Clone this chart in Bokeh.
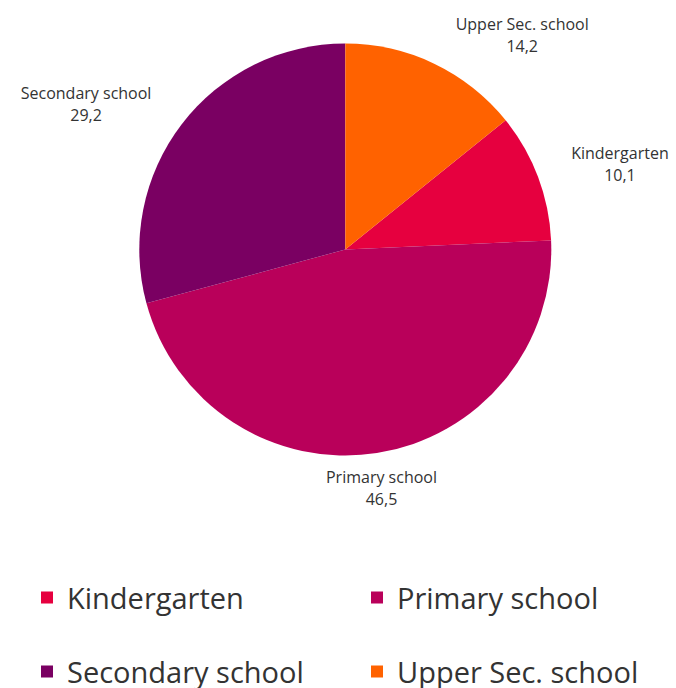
import math
from bokeh.plotting import figure
from bokeh.models import Range1d, ColumnDataSource
from bokeh.core.properties import value
from bokeh.embed import file_html
from bokeh.resources import INLINE

categories = ["Kindergarten", "Primary school", "Secondary school", "Upper Sec. school"]
values = [10.1, 46.5, 29.2, 14.2]
labels = ["10,1", "46,5", "29,2", "14,2"]
colors = ["#E6003F", "#B9005A", "#7A0062", "#FF6200"]

W, H = 676, 688
FONT = "Open Sans"
TXT = "#333333"

p = figure(width=W, height=H, output_backend="svg", toolbar_location=None,
           x_range=Range1d(0, W), y_range=Range1d(0, H),
           x_axis_type=None, y_axis_type=None, min_border=0)
p.outline_line_color = None
p.grid.visible = False

cx, cy, r = 344.8, H - 249, 206
total = sum(values)
# Upper Sec. school ends at 12 o'clock; slices run clockwise in data order
start_frac = values[3] / total
starts, ends, mids = [], [], []
acc = start_frac
for v in values:
    f0 = acc
    f1 = acc + v / total
    starts.append(math.pi / 2 - 2 * math.pi * f1)
    ends.append(math.pi / 2 - 2 * math.pi * f0)
    mids.append((f0 + f1) / 2)
    acc = f1

src = ColumnDataSource(dict(start=starts, end=ends, color=colors))
p.wedge(x=cx, y=cy, radius=r, start_angle="start", end_angle="end",
        fill_color="color", line_color=None, source=src)

# outside labels
lab_fs = 16
for cat, lab, m in zip(categories, labels, mids):
    a = 2 * math.pi * m
    dx, dy = math.sin(a), math.cos(a)
    ax = cx + (r + 30) * dx
    ay = cy + (r + 30) * dy
    w = len(cat) * lab_fs * 0.53
    if dx > 0.3:
        bx = ax + w / 2 + 3
    elif dx < -0.3:
        bx = ax - w / 2 - 4
    else:
        bx = ax
    if dy < -0.8:
        by = ay - 5
    else:
        by = ay + 2
    p.text(x=[bx], y=[by + 11], text=[cat], text_align="center", text_baseline="middle",
           text_font=value(FONT), text_font_size=f"{lab_fs}px", text_color=TXT)
    p.text(x=[bx], y=[by - 11], text=[lab], text_align="center", text_baseline="middle",
           text_font=value(FONT), text_font_size=f"{lab_fs}px", text_color=TXT)

# legend (2 columns)
col_x = [46.5, 376.5]
row_y = [H - 597, H - 671]
lx, ly = [], []
for i in range(len(categories)):
    lx.append(col_x[i % 2])
    ly.append(row_y[i // 2])
p.scatter(x=lx, y=ly, marker="square", size=12,
          fill_color=colors, line_color=None)
p.text(x=[x + 20 for x in lx], y=ly, text=categories, text_align="left", text_baseline="middle",
       text_font=value(FONT), text_font_size="29px", text_color=TXT)

open("out.html", "w").write(file_html(p, INLINE))
